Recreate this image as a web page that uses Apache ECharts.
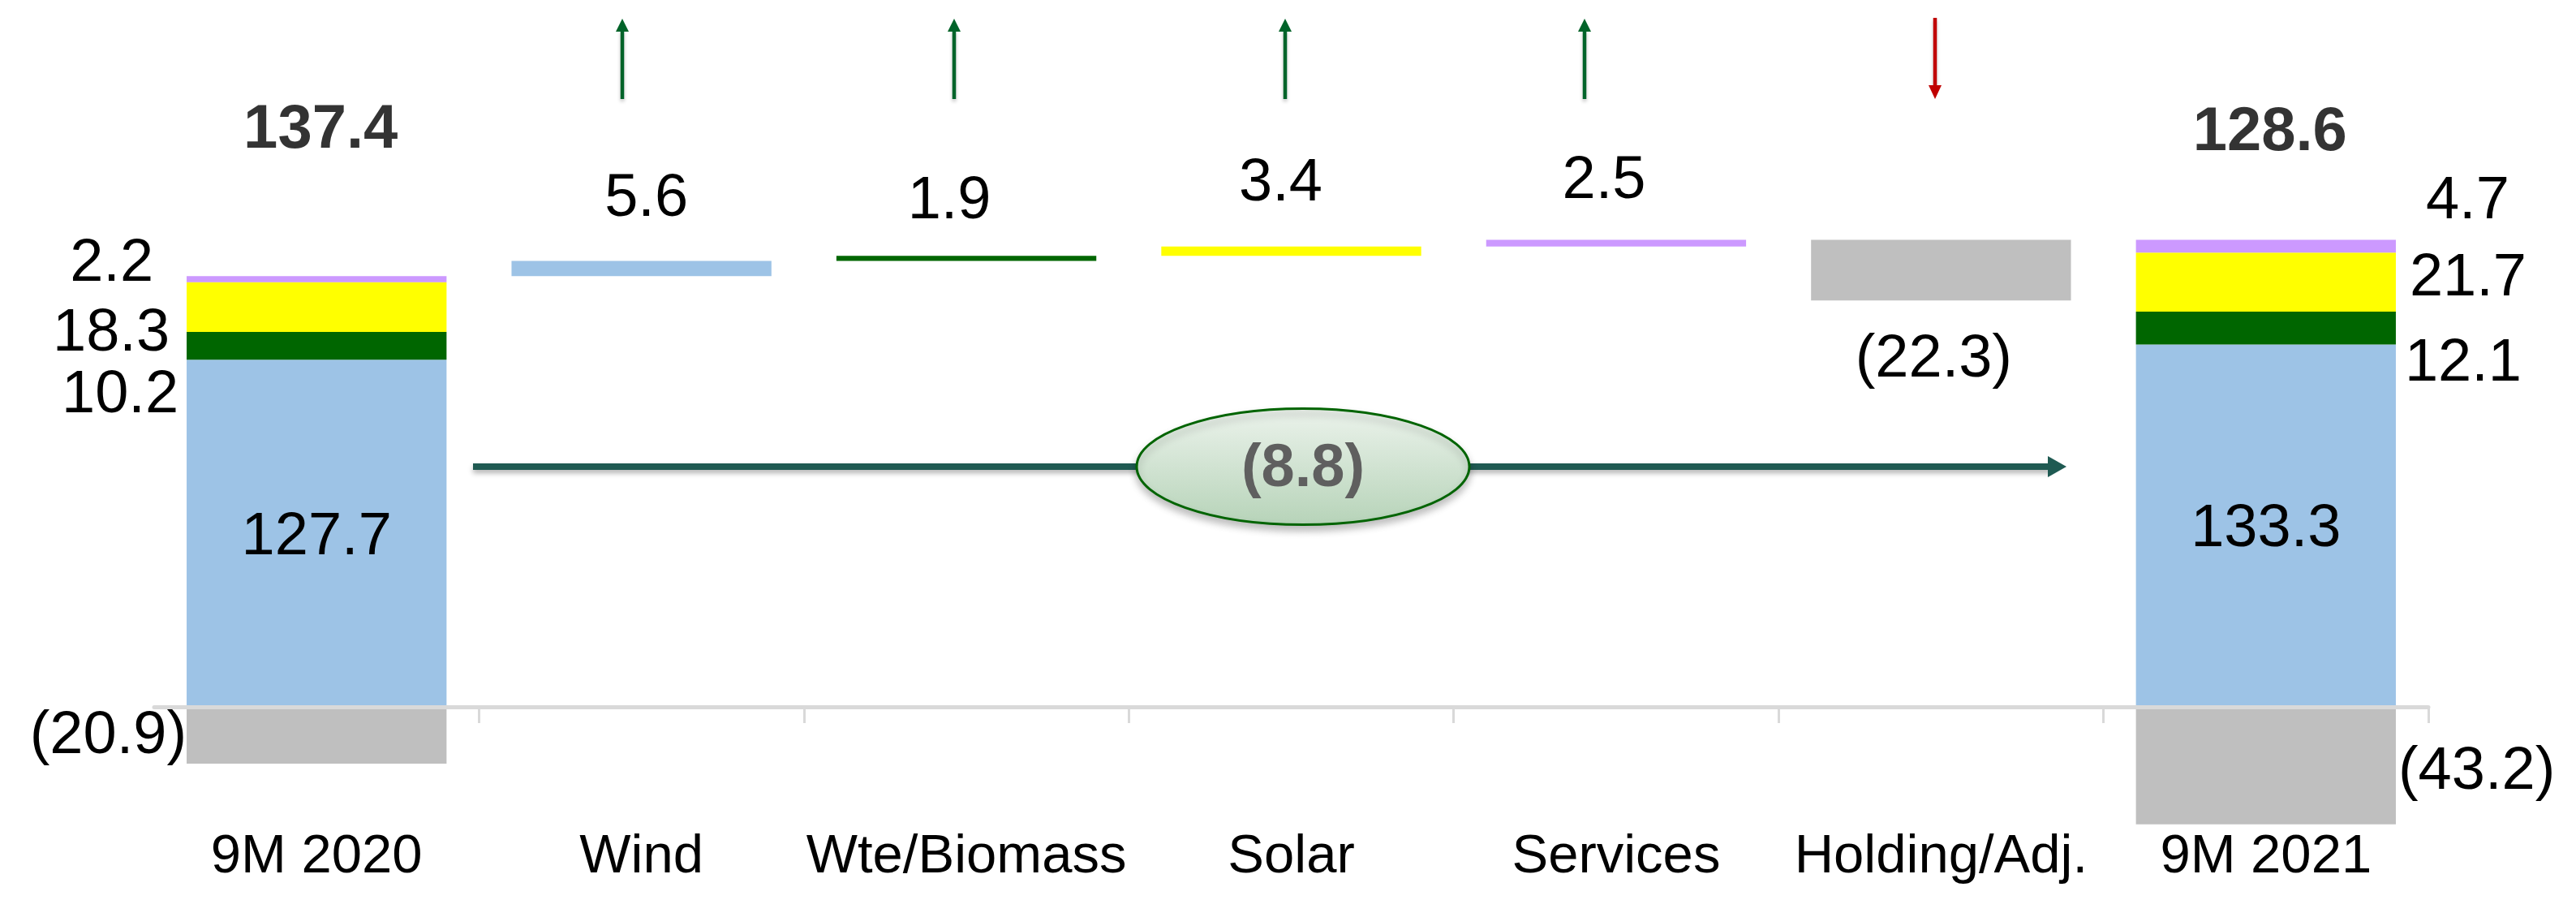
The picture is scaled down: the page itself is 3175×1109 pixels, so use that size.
<!DOCTYPE html>
<html><head><meta charset="utf-8">
<script src="https://cdn.jsdelivr.net/npm/echarts@6/dist/echarts.min.js"></script>
<style>html,body{margin:0;padding:0;background:#fff}#c{width:3175px;height:1109px}</style>
</head><body><div id="c"></div>
<script>
// ---- data ----
const categories = ['9M 2020', 'Wind', 'Wte/Biomass', 'Solar', 'Services', 'Holding/Adj.', '9M 2021'];
const segmentNames = ['Wind', 'Wte/Biomass', 'Solar', 'Services'];
const start2020 = [127.7, 10.2, 18.3, 2.2];   // Wind, Wte/Biomass, Solar, Services
const end2021 = [133.3, 12.1, 21.7, 4.7];
const holding2020 = -20.9;
const holding2021 = -43.2;
const deltas = [5.6, 1.9, 3.4, 2.5, -22.3];    // Wind, Wte/Biomass, Solar, Services, Holding/Adj.
const totals = [137.4, 128.6];
const netChange = -8.8;

// ---- styles ----
const segColors = ['#9dc3e6', '#006600', '#ffff00', '#cc99ff'];
const grayColor = '#bfbfbf';
const FONT = "'Liberation Sans', Arial, sans-serif";
const VFS = 74;

function fmt(v) { return v < 0 ? '(' + Math.abs(v).toFixed(1) + ')' : v.toFixed(1); }
const r1 = v => Math.round(v * 10) / 10;

const n = categories.length;
const base = new Array(n).fill('-');
let run = start2020.reduce((a, b) => a + b, 0);
const top2020 = r1(run);
for (let i = 0; i < deltas.length; i++) {
  if (deltas[i] >= 0) { base[i + 1] = r1(run); run += deltas[i]; }
  else { run += deltas[i]; base[i + 1] = r1(run); }
}
const top2021 = r1(end2021.reduce((a, b) => a + b, 0));

const startLabels = [
  { position: 'inside', offset: [0, 5] },
  { position: 'left', distance: 10, offset: [0, 61] },
  { position: 'left', distance: 21, offset: [0, 33] },
  { position: 'left', distance: 41, offset: [0, -18] }
];
const endLabels = [
  { position: 'inside', offset: [0, 5] },
  { position: 'right', distance: 11, offset: [0, 44] },
  { position: 'right', distance: 17, offset: [0, -4] },
  { position: 'right', distance: 37, offset: [0, -55] }
];
const deltaLabels = [
  { position: 'top', distance: 39, offset: [6, 0] },
  { position: 'top', distance: 30, offset: [-21, 0] },
  { position: 'top', distance: 40, offset: [-13, 0] },
  { position: 'top', distance: 35, offset: [-15, 0] },
  { position: 'bottom', distance: 36, offset: [-9, 0] }
];

function lbl(cfg, v) {
  return Object.assign({ show: true, fontSize: VFS, fontFamily: FONT, color: '#000', formatter: fmt(v) }, cfg);
}

const series = [];
series.push({
  name: 'base', type: 'bar', stack: 'w', barWidth: '80%', silent: true,
  itemStyle: { color: 'rgba(0,0,0,0)' }, data: base
});
segmentNames.forEach((nm, s) => {
  series.push({
    name: nm, type: 'bar', stack: 'w', barWidth: '80%',
    itemStyle: { color: segColors[s] },
    data: categories.map((c, i) => {
      if (i === 0) return { value: start2020[s], label: lbl(startLabels[s], start2020[s]) };
      if (i === n - 1) return { value: end2021[s], label: lbl(endLabels[s], end2021[s]) };
      if (i === s + 1) return { value: deltas[s], label: lbl(deltaLabels[s], deltas[s]) };
      return '-';
    })
  });
});
series.push({
  name: 'Holding/Adj.', type: 'bar', stack: 'w', barWidth: '80%',
  itemStyle: { color: grayColor },
  data: categories.map((c, i) => {
    if (i === 0) return { value: holding2020, label: lbl({ position: 'left', distance: 0, offset: [0, 2] }, holding2020) };
    if (i === n - 1) return { value: holding2021, label: lbl({ position: 'right', distance: 3, offset: [0, 8] }, holding2021) };
    if (i === 5) return { value: -deltas[4], label: lbl(deltaLabels[4], deltas[4]) };
    return '-';
  })
});
series.push({
  name: 'totals', type: 'scatter', symbolSize: 1, itemStyle: { color: 'rgba(0,0,0,0)' }, z: 5,
  data: [
    { value: [0, top2020], label: { show: true, position: 'top', distance: 141, offset: [5, 0], formatter: fmt(totals[0]), fontSize: 76, fontWeight: 'bold', fontFamily: FONT, color: '#000' } },
    { value: [n - 1, top2021], label: { show: true, position: 'top', distance: 93, offset: [5, 0], formatter: fmt(totals[1]), fontSize: 76, fontWeight: 'bold', fontFamily: FONT, color: '#000' } }
  ]
});

// annotation graphics
const graphics = [];
const upArrowsX = [767, 1176, 1584, 1953];
upArrowsX.forEach(x => {
  graphics.push({ type: 'line', shape: { x1: x, y1: 122, x2: x, y2: 37 }, style: { stroke: '#006329', lineWidth: 4.5, shadowBlur: 4, shadowOffsetY: 3, shadowColor: 'rgba(0,0,0,0.25)' }, z: 20 });
  graphics.push({ type: 'polygon', shape: { points: [[x, 23], [x - 8, 39], [x + 8, 39]] }, style: { fill: '#006329' }, z: 20 });
});
const downX = 2385;
graphics.push({ type: 'line', shape: { x1: downX, y1: 22, x2: downX, y2: 107 }, style: { stroke: '#c00000', lineWidth: 4.5, shadowBlur: 4, shadowOffsetY: 3, shadowColor: 'rgba(0,0,0,0.25)' }, z: 20 });
graphics.push({ type: 'polygon', shape: { points: [[downX, 122], [downX - 8, 105], [downX + 8, 105]] }, style: { fill: '#c00000' }, z: 20 });

graphics.push({ type: 'line', shape: { x1: 583, y1: 575, x2: 2528, y2: 575 }, style: { stroke: '#1f5a52', lineWidth: 8, shadowBlur: 6, shadowOffsetY: 4, shadowColor: 'rgba(0,0,0,0.3)' }, z: 20 });
graphics.push({ type: 'polygon', shape: { points: [[2524, 562], [2547, 575], [2524, 588]] }, style: { fill: '#1f5a52' }, z: 20 });
graphics.push({
  type: 'ellipse', shape: { cx: 1606, cy: 575, rx: 205, ry: 71.5 },
  style: {
    fill: new echarts.graphic.LinearGradient(0, 0, 0, 1, [{ offset: 0, color: '#ecf3ec' }, { offset: 1, color: '#b6d3b8' }]),
    stroke: '#006400', lineWidth: 3, shadowBlur: 10, shadowOffsetY: 6, shadowColor: 'rgba(0,0,0,0.25)'
  }, z: 30
});
graphics.push({
  type: 'text', x: 1606, y: 579, z: 31,
  style: { text: fmt(netChange), fontSize: 74, fontWeight: 'bold', fontFamily: FONT, fill: '#5f5f5f', align: 'center', verticalAlign: 'middle' }
});

const chart = echarts.init(document.getElementById('c'), null, { renderer: 'canvas' });
chart.setOption({
  backgroundColor: '#fff',
  animation: false,
  grid: { left: 190, right: 182, top: 201, bottom: 87.25, containLabel: false, outerBoundsMode: 'none' },
  xAxis: {
    type: 'category', data: categories, boundaryGap: true, z: 5,
    axisLine: { onZero: true, lineStyle: { color: '#d9d9d9', width: 5 } },
    axisTick: { show: true, length: 20, interval: (i) => i !== 0, lineStyle: { color: '#d9d9d9', width: 3 } },
    axisLabel: { fontSize: 67, fontFamily: FONT, color: '#000', margin: 1, interval: 0 }
  },
  yAxis: { type: 'value', min: -45, max: 200, show: false, splitLine: { show: false } },
  series: series,
  graphic: graphics
});
</script>
</body></html>
